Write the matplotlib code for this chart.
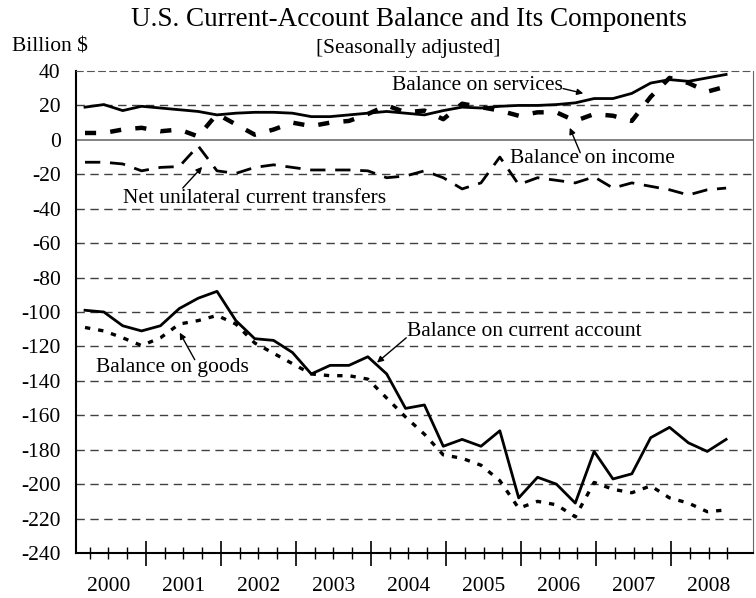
import numpy as np
import matplotlib
matplotlib.use("Agg")
from matplotlib import pyplot as plt

plt.rcParams['font.family'] = ['Liberation Serif', 'DejaVu Serif']

# quarterly values, 2000 Q1 .. 2008 Q3, billion $
services = [19, 20.5, 17, 19.5, 18.5, 17.5, 16.5, 14.5, 15.5, 16, 16, 15.5,
            13.5, 13.5, 14.5, 15.5, 16.5, 15.5, 14.5, 17, 19, 18.5, 19.5, 20,
            20, 20.5, 21.5, 24, 24, 27, 33, 35, 34, 36, 38]
income = [4, 4, 6, 7, 5, 6, 2, 15, 9, 3, 6, 10,
          8, 10, 11, 15, 20, 16, 17, 12, 21, 19, 17, 14,
          16, 16, 11, 15, 14, 11, 25, 36, 33, 28, 31]
transfers = [-13, -13, -14, -18, -16, -15.5, -3.5, -18, -19.5, -16, -14.5, -16,
             -17.5, -17.5, -17.5, -18, -22, -21, -18, -22, -28.5, -25, -10, -26,
             -22, -23.5, -25, -21.5, -28, -25, -27, -29, -32, -29, -28]
goods = [-109, -111, -115, -119.5, -115, -107, -105, -102, -107, -118, -124, -130,
         -136, -137, -137, -139, -150, -161, -171, -183, -185, -189, -198, -214,
         -210, -212, -219, -199, -203, -205, -201, -208, -211, -216, -215]
current = [-99, -100, -108, -111, -108, -98, -92, -88, -105, -115.5, -116.5, -123.5,
           -136, -131, -131, -126, -136, -156, -154, -178, -174, -178, -169, -208,
           -196, -200, -211, -181, -197, -194, -173, -167, -176, -181, -174]
years = list(range(2000, 2009))
yticks = list(range(-240, 41, 20))

n = len(current)
x = 2000.187 + np.arange(n) * 0.2514

fig = plt.figure(figsize=(7.56, 5.98), dpi=100)
ax = fig.add_axes([76/756, 45/598, 677/756, 482/598])

# grid
for v in yticks[1:-1]:
    if v == 0:
        ax.axhline(0, color='#777777', lw=1.3, zorder=1)
    else:
        ax.axhline(v, color='#404040', lw=1.0, dashes=(6, 4), zorder=1)

ax.plot(x, services, color='black', lw=2, solid_joinstyle='miter', zorder=3)
ax.plot(x, income, color='black', lw=3.2, dashes=(2.5, 3.2), zorder=3)
ax.plot(x, transfers, color='black', lw=2, dashes=(5.5, 3.5), zorder=3)
ax.plot(x, goods, color='black', lw=2.4, dashes=(1.6, 2.4), zorder=3)
ax.plot(x, current, color='black', lw=2, zorder=3)

ax.set_xlim(2000.067, 2009.093)
ax.set_ylim(-240, 40)
ax.set_yticks(yticks)
ax.set_yticklabels([str(v) for v in yticks], fontsize=15.5)
ax.tick_params(axis='y', length=0, pad=11)

ax.set_xticks(years[1:], minor=False)
ax.set_xticklabels([])
ax.set_xticks([y + q / 4 for y in years for q in (1, 2, 3)], minor=True)
ax.tick_params(axis='x', which='major', direction='inout', length=18, width=1.2)
ax.tick_params(axis='x', which='minor', direction='inout', length=9, width=1.0)
for yr in years:
    ax.text(yr + 0.5, -0.07, str(yr), transform=ax.get_xaxis_transform(),
            ha='center', va='center', fontsize=15.5)

ax.spines['left'].set_linewidth(1.5)
ax.spines['bottom'].set_linewidth(1.5)
ax.spines['right'].set_color('#666666')
ax.spines['top'].set_color('#555555')
ax.spines['top'].set_linestyle((0, (6, 4)))

fig.text(409/756, 1 - 20/598, 'U.S. Current-Account Balance and Its Components',
         ha='center', va='center', fontsize=19.5)
fig.text(408/756, 1 - 48/598, '[Seasonally adjusted]', ha='center', va='center',
         fontsize=15.5)
fig.text(12/756, 1 - 47/598, 'Billion $', ha='left', va='center', fontsize=15.5)

# labels and their arrows
arrow = dict(arrowstyle='-|>', color='black', lw=1, mutation_scale=9,
             shrinkA=0, shrinkB=0)
ax.text(2004.28, 31.5, 'Balance on services', ha='left', va='center', fontsize=15.5)
ax.annotate('', xy=(2006.83, 27), xytext=(2006.56, 29.8), arrowprops=arrow)

ax.text(2006.95, -11, 'Balance on income', ha='center', va='center', fontsize=15.5)
ax.annotate('', xy=(2006.65, 7), xytext=(2006.79, -7.5), arrowprops=arrow)

ax.text(2002.45, -34, 'Net unilateral current transfers', ha='center', va='center',
        fontsize=15.5)
ax.annotate('', xy=(2001.75, -15.7), xytext=(2001.49, -28), arrowprops=arrow)

ax.text(2004.48, -111.5, 'Balance on current account', ha='left', va='center',
        fontsize=15.5)
ax.annotate('', xy=(2004.08, -129.4), xytext=(2004.47, -115), arrowprops=arrow)

ax.text(2001.35, -132, 'Balance on goods', ha='center', va='center', fontsize=15.5)
ax.annotate('', xy=(2001.45, -112), xytext=(2001.65, -127.7), arrowprops=arrow)

fig.savefig('out.png', dpi=100)
